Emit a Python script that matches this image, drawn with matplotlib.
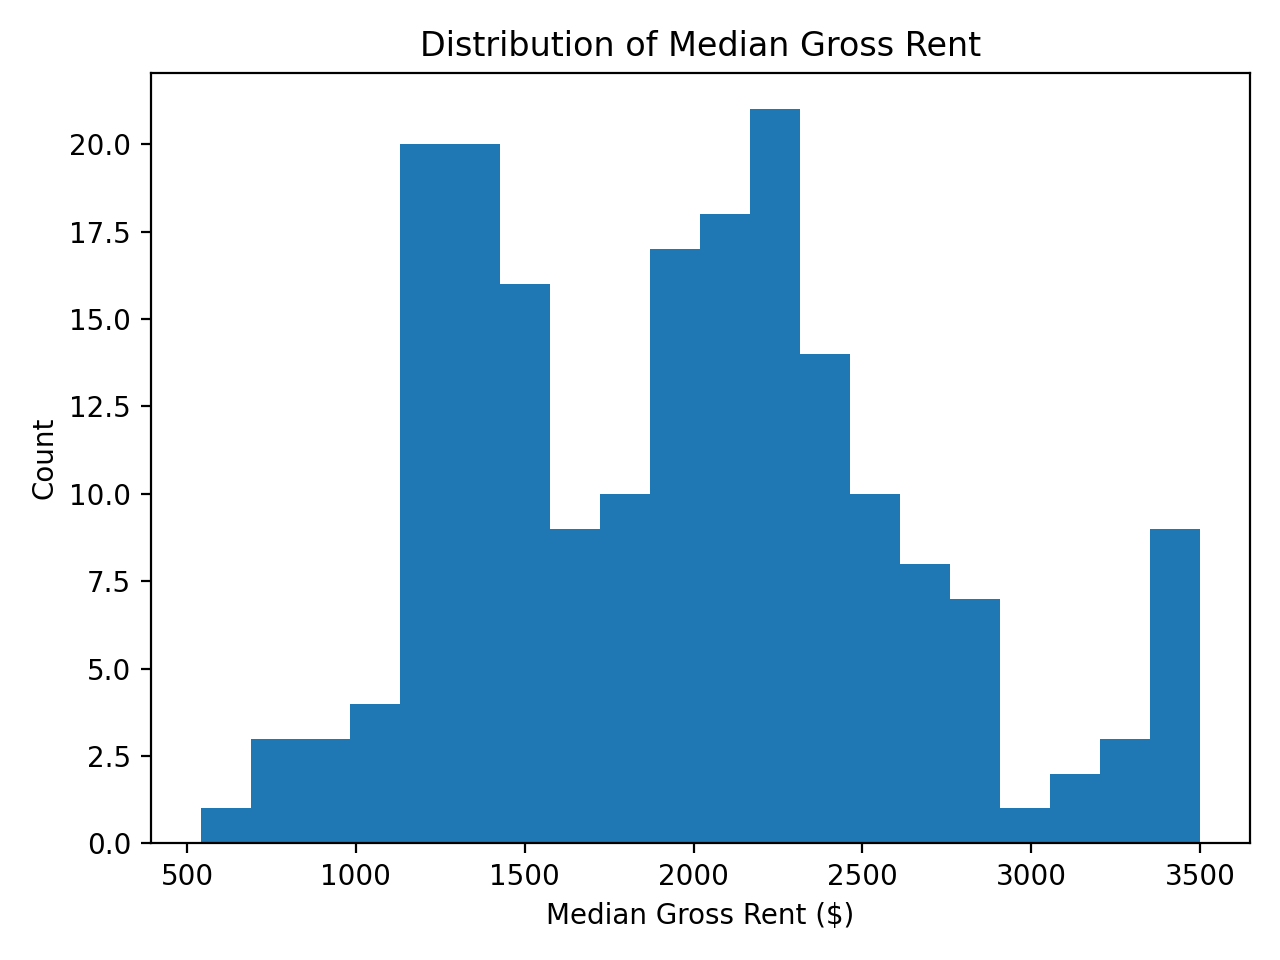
import numpy as np
import matplotlib
matplotlib.use('Agg')
import matplotlib.pyplot as plt

# histogram counts, 20 equal bins
bin_min = 540
bin_max = 3500
counts = [1, 3, 3, 4, 20, 20, 16, 9, 10, 17, 18, 21, 14, 10, 8, 7, 1, 2, 3, 9]

edges = np.linspace(bin_min, bin_max, len(counts) + 1)

fig, ax = plt.subplots(figsize=(6.4, 4.8), dpi=200)
ax.hist(edges[:-1], bins=edges, weights=counts, color='#1f77b4')
ax.set_title('Distribution of Median Gross Rent')
ax.set_xlabel('Median Gross Rent ($)')
ax.set_ylabel('Count')
ax.yaxis.set_major_formatter(matplotlib.ticker.FormatStrFormatter('%.1f'))
plt.tight_layout()
plt.savefig('out.png')
